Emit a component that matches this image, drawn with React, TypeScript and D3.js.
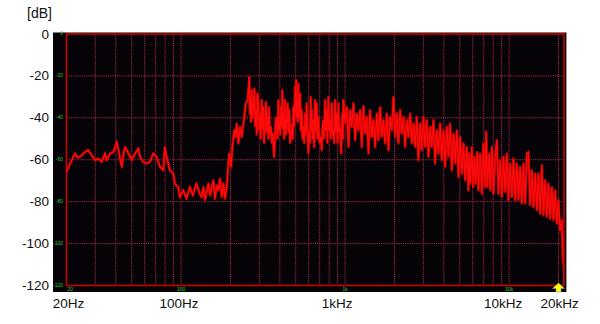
import React from "react";
import * as d3 from "d3";

// ---- data ----
const freqs: number[] = [
  20, 21, 22.6, 23.5, 24.2, 26, 27.2, 28.5, 30, 31.3, 32.8, 34.4, 35.2, 36.9, 38.7, 40.6, 41.5, 42.6, 43.6, 44.6,
  45.6, 46.7, 48.9, 50, 52.4, 54.9, 56.2, 58.8, 61.6, 64.6, 67.7, 71, 74.4, 77.9, 79.7, 81.6, 85.5, 89.6, 91.7, 96.1,
  98.3, 103, 108, 113, 118, 124, 130,
  133.6, 136.8, 140, 146.7, 150.2, 157.4, 161, 165, 168.8, 172.9, 176.9, 181, 185.4, 189.8, 194.2, 197, 201.7, 205.5,
  211.4, 215.4, 218.4, 223.6, 228.8, 234.2, 243.2,
  247.8, 254.8, 260.8, 262.5, 264.6, 267, 269.6, 273, 276, 279.8, 283, 286.4, 289, 291.8, 296, 300, 303, 306, 310.2,
  314, 317.6, 321, 325.1, 329.8, 333, 337.6, 341, 344, 348, 353.8, 358, 362, 369, 374.2, 378, 383, 387, 392, 395,
  397.6, 402, 407, 411, 414.6, 418, 420.6, 425, 430.4, 435, 440.6, 447, 452, 457.4, 462, 468.2, 477.2, 480, 483.8,
  489, 495.4, 498, 502.4, 507, 511.8, 515, 519, 525, 531.4, 537, 544, 550, 557, 563, 570, 577, 583.6, 590, 597.4,
  605.8, 611, 617.2, 622, 626, 633, 640.8, 648, 656, 663, 671.4, 679, 687.4, 698, 710, 720.4, 728, 737.4, 745, 754.8,
  763, 772.8, 780, 791, 800, 809.8, 818, 829, 838, 848.6, 858, 868.6, 878, 889.2, 900, 910.2, 920, 931.8, 945, 954,
  962.8, 970, 976.4,
  1000, 1024, 1048, 1073, 1098, 1124, 1151, 1178, 1206, 1235, 1264, 1294, 1324, 1356, 1388, 1420, 1454, 1488, 1524,
  1560, 1597, 1635, 1673, 1713, 1754, 1795, 1838, 1881, 1926, 1971, 2018, 2066, 2115, 2165, 2216, 2268, 2322, 2377,
  2433, 2490, 2550, 2610, 2672, 2735, 2800, 2866, 2934, 3003, 3074, 3148, 3222, 3298, 3377, 3457, 3539, 3622, 3708,
  3796, 3886, 3978, 4073, 4169, 4268, 4369, 4473, 4579, 4687, 4798, 4912, 5026, 5145, 5268, 5392, 5520, 5650,
  5702, 5784, 5924, 6033, 6144, 6266, 6381, 6498, 6656, 6817, 6972, 7140, 7241, 7374, 7551, 7691, 7843, 8023, 8217,
  8414, 8606, 8813, 9026, 9231, 9454, 9682, 9902, 10141, 10387, 10622, 10879, 11141, 11396, 11672, 11955, 12227,
  12522, 12824, 13116, 13428, 13753, 14067, 14405, 14754, 15090, 15453, 15827, 16185, 16577, 16978, 17362, 17783,
  18213, 18628, 19079, 19541, 19983, 20464, 20958, 21256, 21557, 21741,
];

const levels: number[] = [
  -66, -62, -57, -59, -58.6, -56.3, -55.4, -57.8, -60.2, -59.4, -61, -57, -60.2, -57, -56.3, -51.5, -55.4, -60.2, -63.4, -57,
  -53.9, -55.4, -58.6, -60.2, -57, -54.6, -58.6, -61, -61.8, -61, -57, -58.6, -63.4, -65, -53.9, -58.6, -65, -66.6, -71.4, -73,
  -77.8, -74.6, -78.6, -73, -77, -71.4, -76.2,
  -77.8, -73, -79.3, -71.4, -77, -69.8, -78.6, -72.2, -74.6, -69, -77.8, -71.4, -78.6, -73, -61.8, -57, -63.4, -53.9,
  -45.9, -49.1, -42.7, -52.2, -44.3, -49.1, -39.5,
  -33.1, -31.5, -20.4, -38, -30, -42, -26.8, -40, -34.8, -26, -44, -36.3, -48, -28.4, -33.1, -46, -38.7, -50, -31.5,
  -45, -34.8, -52, -42.7, -32.4, -47, -39.5, -50, -34.8, -48, -44.3, -52, -47.5, -58.6, -49.1, -40, -41.1, -50, -31.5, -46,
  -39.5, -48, -34.8, -44, -26.8, -45, -37.9, -50, -31.5, -48, -42.7, -33.1, -47, -36.3, -52, -49.1, -42.7, -50, -34.8,
  -44, -25.2, -38, -22, -40, -31.5, -42, -23.6, -40, -28.4, -46, -36.3, -50, -44.3, -52, -37.9, -48, -33.1, -46, -57,
  -45.9, -52, -30, -46, -36.3, -50, -41.1, -54, -31.5, -47, -33.1, -50, -39.5, -52, -49.1, -55.4, -45, -41.1, -50, -31.5,
  -46, -36.3, -52, -30, -46, -41.1, -50, -33.1, -48, -45.9, -52, -31.5, -47, -37.9, -52, -33.1, -47, -44.3, -57, -46,
  -37.9, -50, -31.5,
  -42.7, -34.8, -53.9, -36.3, -44.3, -33.1, -50.7, -37.9, -45.9, -36.3, -53.9, -34.4, -47.5, -39.5, -57, -36.3, -49.1, -41.1, -53.9,
  -37.9, -50.7, -34.8, -49.1, -41.1, -52.2, -37.9, -55.4, -39.5, -45.9, -30, -49.1, -37.9, -52.2, -36.3, -47.5, -39.5, -53.9, -41.1,
  -49.1, -37.9, -52.2, -42.7, -53.9, -39.5, -60.2, -42.7, -55.4, -39.5, -53.9, -41.1, -58.6, -44.3, -53.9, -41.1, -61.8, -45.9, -57,
  -42.7, -60.2, -45.9, -63.4, -44.3, -58.6, -42.7, -65, -47.5, -61.8, -45.9, -68.2, -49.1, -66.6, -52.2, -69.8, -53.9, -74.6,
  -57, -71.4, -53.9, -73, -58.6, -71.4, -56.3, -74.6, -57, -76.2, -52.2, -73, -46.7, -73, -57, -74.6, -53.9, -76.2, -58.6,
  -50.7, -76.2, -60.2, -77.8, -58.6, -75.4, -57, -79.3, -61.8, -77.8, -59.4, -79.3, -61.8, -79.3, -63.4, -80.9, -61.8,
  -80.9, -57, -56.3, -81.7, -65, -82.5, -66.6, -84.1, -66.6, -85.7, -62.6, -86.5, -69.8, -87.3, -71.4, -88.1,
  -73, -88.9, -74.6, -90.5, -79.3, -93.7, -88.9, -108, -111.2, -119,
];

const yTicks: number[] = [0, -20, -40, -60, -80, -100, -120];
const gridFreqs: number[] = [
  30, 40, 50, 60, 70, 80, 90, 100, 200, 300, 400, 500, 600, 700, 800, 900, 1000,
  2000, 3000, 4000, 5000, 6000, 7000, 8000, 9000, 10000, 20000,
];
const xLabelFreqs: number[] = [20, 100, 1000, 10000, 20000];
const xLabelTexts: string[] = ["20Hz", "100Hz", "1kHz", "10kHz", "20kHz"];
const innerLabelFreqs: number[] = [20, 100, 1000, 10000];
const innerLabelTexts: string[] = ["20", "100", "1k", "10k"];
const markerFreq = 20000;

// ---- layout ----
const W = 600;
const H = 324;
const plotL = 66.4;
const plotR = 564;
const plotT = 34;
const plotB = 285.5;
const xLabelNudge = [2, -2, -8, -6, 1];

export default function App() {
  const x = d3.scaleLog().domain([20, 21600]).range([plotL, plotR]);
  const y = d3.scaleLinear().domain([-120, 0]).range([plotB, plotT]);

  const pts = freqs.map((f, i) => [f, levels[i]] as [number, number]);
  const line = d3
    .line<[number, number]>()
    .x((d) => x(d[0]))
    .y((d) => y(d[1]));
  const d = line(pts) || "";

  const gridColor = "#b02a44";
  const font = "'Liberation Sans', Arial, sans-serif";
  const mx = x(markerFreq);

  return (
    <svg
      width={W}
      height={H}
      viewBox={`0 0 ${W} ${H}`}
      style={{ position: "absolute", left: 0, top: 0, background: "#fff" }}
    >
      <defs>
        <clipPath id="plotClip">
          <rect x={plotL} y={plotT} width={plotR - plotL} height={plotB - plotT + 2} />
        </clipPath>
      </defs>
      <rect x={0} y={0} width={W} height={H} fill="#fff" />
      {/* black panel */}
      <rect x={53} y={32.5} width={513.5} height={259.5} fill="#050307" />
      <line x1={566.5} x2={566.5} y1={32.5} y2={292} stroke="#9a9a9a" strokeWidth={1} />

      {/* grid */}
      {gridFreqs.map((f) => (
        <line
          key={"gx" + f}
          x1={x(f)}
          x2={x(f)}
          y1={plotT}
          y2={plotB}
          stroke={gridColor}
          strokeWidth={1}
          strokeDasharray="1.2,1"
        />
      ))}
      {yTicks
        .filter((t) => t !== 0 && t !== -120)
        .map((t) => (
          <line
            key={"gy" + t}
            x1={plotL}
            x2={plotR}
            y1={y(t)}
            y2={y(t)}
            stroke={gridColor}
            strokeWidth={1}
            strokeDasharray="1.2,1"
          />
        ))}

      {/* spectrum */}
      <g clipPath="url(#plotClip)">
        <path d={d} fill="none" stroke="#b80000" strokeWidth={2.6} strokeLinejoin="round" />
        <path d={d} fill="none" stroke="#ff0a0a" strokeWidth={1.3} strokeLinejoin="miter" />
      </g>

      {/* frame */}
      <rect
        x={plotL}
        y={plotT}
        width={plotR - plotL}
        height={plotB - plotT}
        fill="none"
        stroke="#d40000"
        strokeWidth={1.5}
      />

      {/* inner green labels */}
      {yTicks.map((t) => (
        <text
          key={"gl" + t}
          x={63}
          y={y(t)}
          fontSize={5}
          fill="#33cc33"
          textAnchor="end"
          dominantBaseline="middle"
          fontFamily={font}
        >
          {t}
        </text>
      ))}
      {innerLabelFreqs.map((f, i) => (
        <text
          key={"il" + f}
          x={i === 0 ? x(f) + 1 : x(f)}
          y={290.5}
          fontSize={5}
          fill="#33cc33"
          textAnchor={i === 0 ? "start" : "middle"}
          fontFamily={font}
        >
          {innerLabelTexts[i]}
        </text>
      ))}

      {/* marker arrow */}
      <polygon
        points={[
          [mx, 283],
          [mx + 6, 288.5],
          [mx + 2.5, 288.5],
          [mx + 2.5, 292],
          [mx - 2.5, 292],
          [mx - 2.5, 288.5],
          [mx - 6, 288.5],
        ]
          .map((p) => p.join(","))
          .join(" ")}
        fill="#ffff00"
        stroke="#7a8fc8"
        strokeWidth={0.6}
      />

      {/* outer labels */}
      <text x={27} y={18} fontSize={14} fontFamily={font} fill="#111">
        [dB]
      </text>
      {yTicks.map((t) => (
        <text
          key={"yl" + t}
          x={49}
          y={y(t)}
          fontSize={13.5}
          fontFamily={font}
          fill="#111"
          textAnchor="end"
          dominantBaseline="central"
        >
          {t}
        </text>
      ))}
      {xLabelFreqs.map((f, i) => (
        <text
          key={"xl" + f}
          x={x(f) + xLabelNudge[i]}
          y={308}
          fontSize={13.5}
          fontFamily={font}
          fill="#111"
          textAnchor="middle"
        >
          {xLabelTexts[i]}
        </text>
      ))}
    </svg>
  );
}
